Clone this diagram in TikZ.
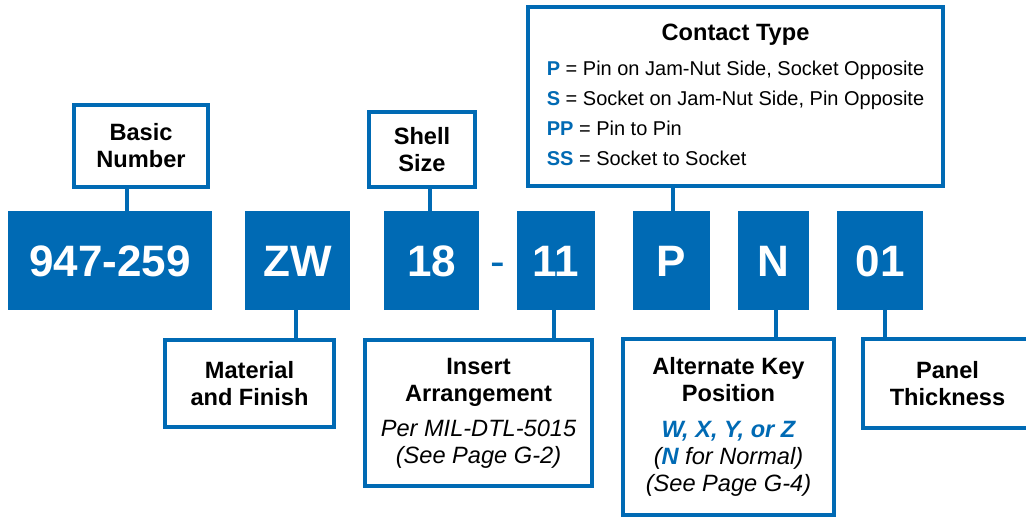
\documentclass[tikz,border=0pt]{standalone}
\usepackage{fontspec}
\setmainfont{Liberation Sans}
\definecolor{cblue}{RGB}{0,106,180}
\newcommand\myital{\fontsize{23.6}{27}\selectfont\mdseries\itshape}
\begin{document}
\begin{tikzpicture}[x=1pt,y=-1pt,
  code/.style={fill=cblue, draw=none, inner sep=0pt, text=white,
    font=\fontsize{44}{52}\selectfont\bfseries, text height=31.5pt, text depth=0pt,
    minimum height=99pt},
  dashmark/.style={inner sep=0pt, text=cblue,
    font=\fontsize{44}{52}\selectfont\mdseries, text height=31.5pt, text depth=0pt},
  labelbox/.style={draw=cblue, line width=3.5pt, fill=white, inner sep=0pt,
    align=center, font=\fontsize{23.6}{27}\selectfont\bfseries},
  link/.style={draw=cblue, line width=4pt},
]
\clip (0,0) rectangle (1026,517);
\fill[white] (0,0) rectangle (1026,517);

% code boxes
\node[code, minimum width=204pt] (c1) at (110,260.5) {947-259};
\node[code, minimum width=105pt] (c2) at (297.5,260.5) {ZW};
\node[code, minimum width=95pt] (c3) at (431.5,260.5) {18};
\node[dashmark] (dash) at (497.5,260.5) {-};
\node[code, minimum width=78pt] (c4) at (556,260.5) {11};
\node[code, minimum width=77pt] (c5) at (671.5,260.5) {P};
\node[code, minimum width=71pt] (c6) at (773.5,260.5) {N};
\node[code, minimum width=86pt] (c7) at (880,260.5) {01};

% label boxes
\node[labelbox, minimum width=134pt, minimum height=82pt] (l1) at (141,146) {Basic\\Number};
\node[labelbox, minimum width=106pt, minimum height=75pt] (l3) at (422,149.5) {Shell\\Size};
\node[labelbox, minimum width=415pt, minimum height=179pt] (l5) at (735.5,96.5) {%
{\fontsize{20}{30}\selectfont\mdseries
\begin{tabular}{@{}l@{}}
\multicolumn{1}{@{}c@{}}{\fontsize{23.6}{27}\selectfont\bfseries Contact Type}\\[5pt]
\textcolor{cblue}{\bfseries P} = Pin on Jam-Nut Side, Socket Opposite\\
\textcolor{cblue}{\bfseries S} = Socket on Jam-Nut Side, Pin Opposite\\
\textcolor{cblue}{\bfseries PP} = Pin to Pin\\
\textcolor{cblue}{\bfseries SS} = Socket to Socket
\end{tabular}}};
\node[labelbox, minimum width=169pt, minimum height=87pt] (l2) at (249.5,383.5) {Material\\and Finish};
\node[labelbox, minimum width=227pt, minimum height=146pt] (l4) at (478.5,413)
  {Insert\\Arrangement\\[8pt]{\myital Per MIL-DTL-5015}\\{\myital (See Page G-2)}};
\node[labelbox, minimum width=211pt, minimum height=176pt] (l6) at (728.5,427)
  {Alternate Key\\Position\\[9pt]{\myital\bfseries\color{cblue}W, X, Y, or Z}\\
   {\myital (\textcolor{cblue}{\bfseries N} for Normal)}\\{\myital (See Page G-4)}};
\node[labelbox, minimum width=169pt, minimum height=89pt] (l7) at (947.5,383.5) {Panel\\Thickness};

% connector x positions
\coordinate (x1) at (127,0);
\coordinate (x2) at (296,0);
\coordinate (x3) at (430,0);
\coordinate (x4) at (554,0);
\coordinate (x5) at (673,0);
\coordinate (x6) at (776,0);
\coordinate (x7) at (885,0);

\draw[link] (l1.south -| x1) -- (c1.north -| x1);
\draw[link] (c2.south -| x2) -- (l2.north -| x2);
\draw[link] (l3.south -| x3) -- (c3.north -| x3);
\draw[link] (c4.south -| x4) -- (l4.north -| x4);
\draw[link] (l5.south -| x5) -- (c5.north -| x5);
\draw[link] (c6.south -| x6) -- (l6.north -| x6);
\draw[link] (c7.south -| x7) -- (l7.north -| x7);
\end{tikzpicture}
\end{document}
